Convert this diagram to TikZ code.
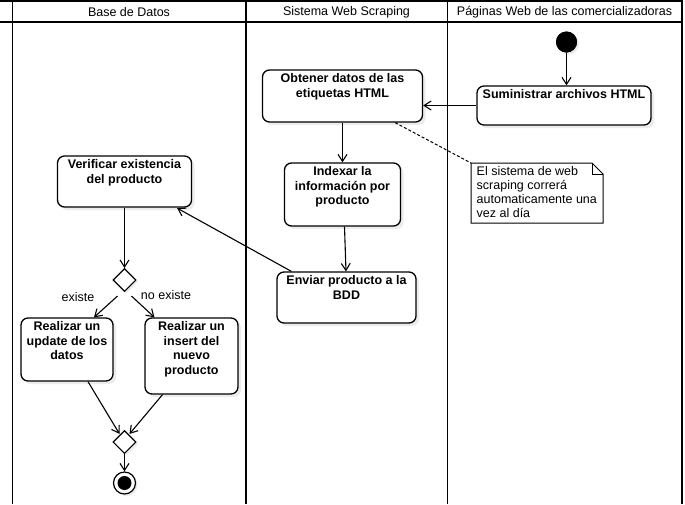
\documentclass[tikz,border=0pt]{standalone}
\usepackage{fontspec}
\setmainfont{Liberation Sans}
\usetikzlibrary{arrows.meta,shapes.geometric,shadows,calc}
\newcommand{\actbox}[3]{\parbox[c][#2pt][t]{#1pt}{\centering\vspace*{3.5pt}#3}}
\tikzset{
  lane/.style={line width=1.8pt,black},
  act/.style={draw,line width=1.3pt,rounded corners=7pt,fill=white,inner sep=0pt,
    font=\fontsize{12.5}{14.5}\selectfont\bfseries,
    drop shadow={opacity=0.15,shadow xshift=3pt,shadow yshift=-3pt}},
  flow/.style={line width=1.1pt,-{Straight Barb[length=7pt,width=9pt,line width=1.1pt]}},
  dec/.style={draw,diamond,line width=1.1pt,fill=white,minimum width=23pt,minimum height=23pt,inner sep=0pt,
    drop shadow={opacity=0.15,shadow xshift=2pt,shadow yshift=-2pt}},
  lbl/.style={font=\fontsize{12.5}{14}\selectfont},
}
\begin{document}
\begin{tikzpicture}[x=1pt,y=-1pt]
\useasboundingbox (0,0) rectangle (685,504);
\fill[white] (0,0) rectangle (685,504);
% swimlanes
\draw[lane] (0,1) -- (683,1);
\draw[lane] (0,22) -- (683,22);
\draw[lane] (12.5,0) -- (12.5,504);
\draw[lane] (246,0) -- (246,504);
\draw[lane] (447.5,0) -- (447.5,504);
\draw[lane] (681.7,0) -- (681.7,504);
\node[lbl] (h1) at (129,12) {Base de Datos};
\node[lbl] (h2) at (346.5,12) {Sistema Web Scraping};
\node[lbl] (h3) at (564.5,12) {Páginas Web de las comercializadoras};
% nodes
\fill[drop shadow={opacity=0.15,shadow xshift=2pt,shadow yshift=-2pt}] (566.5,42) circle (10.5pt);
\node[circle,fill=black,minimum size=21pt,inner sep=0pt] (init) at (566.5,42) {};
\node[act] (sum) at (564,105.5) {\actbox{174}{39}{Suministrar archivos HTML}};
\node[act] (obt) at (342.5,96) {\actbox{160}{52}{Obtener datos de las\\etiquetas HTML}};
\node[act] (idx) at (342.5,194.5) {\actbox{116}{63}{Indexar la\\información por\\producto}};
\node[act] (env) at (346.5,297.5) {\actbox{139}{51}{Enviar producto a la\\BDD}};
\node[act] (ver) at (124.5,181.5) {\actbox{134}{51}{Verificar existencia\\del producto}};
\node[dec] (d1) at (124.5,280) {};
\node[act] (upd) at (67,349.5) {\actbox{92}{63}{Realizar un\\update de los\\datos}};
\node[act] (ins) at (191.5,356) {\actbox{93}{76}{Realizar un\\insert del\\nuevo\\producto}};
\node[dec] (d2) at (124.5,442) {};
\node[circle,draw,line width=1.2pt,fill=white,minimum size=22pt,inner sep=0pt,
  drop shadow={opacity=0.15,shadow xshift=2pt,shadow yshift=-2pt}] (fin) at (124.5,483) {};
\node[circle,fill=black,minimum size=14pt,inner sep=0pt] (finin) at (fin) {};
% note
\coordinate (nA) at (471,163);
\coordinate (nB) at (592,163);
\coordinate (nC) at (603,174);
\coordinate (nD) at (603,223);
\coordinate (nE) at (471,223);
\filldraw[fill=white,line width=1pt] (nA) -- (nB) -- (nC) -- (nD) -- (nE) -- cycle;
\draw[line width=1pt] (nB) -- (592,174) -- (nC);
\node[anchor=north west,align=left,inner sep=0pt,font=\fontsize{12.5}{14}\selectfont] (note) at (476.5,166)
  {El sistema de web\\scraping correrá\\automaticamente una\\vez al día};
% connectors
\draw[flow] (init) -- (init |- sum.north);
\draw[flow] (sum.west) -- (obt.east |- sum.west);
\draw[line width=1pt,dash pattern=on 3pt off 2pt] ($(obt.south east)+(-28,0)$) -- (nA);
\draw[flow] (obt.south) -- (idx.north);
\draw[flow] ($(idx.south)+(2,0)$) -- ($(env.north)+(-0.5,0)$);
\draw[flow] ($(env.north west)+(15,0)$) -- ($(ver.south east)+(-15,0.5)$);
\draw[flow] (ver.south -| d1) -- (d1.north);
\draw[flow] ($(d1.south)+(-7,4)$) -- ($(upd.north)+(27,0)$);
\draw[flow] ($(d1.south)+(7,4)$) -- ($(ins.north)+(-37,0)$);
\node[lbl] (l1) at (78,297) {existe};
\node[lbl] (l2) at (166,295) {no existe};
\draw[flow] ($(upd.south)+(21,0)$) -- ($(d2.north)+(-5,4)$);
\draw[flow] ($(ins.south)+(-29,0)$) -- ($(d2.north)+(5,4)$);
\draw[flow] (d2.south) -- (fin.north);
\end{tikzpicture}
\end{document}
